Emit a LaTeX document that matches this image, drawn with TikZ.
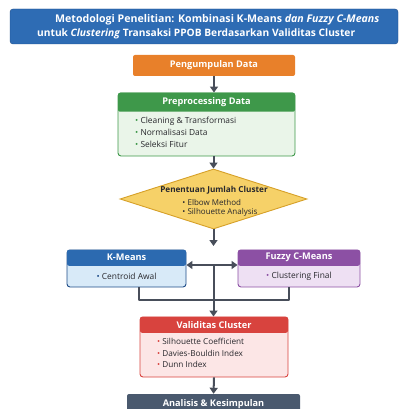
\documentclass[tikz,border=0pt]{standalone}
\usepackage{fontspec}
\setmainfont{Open Sans}
\usetikzlibrary{arrows.meta}
\usetikzlibrary{positioning}
\usetikzlibrary{shapes.geometric}
\definecolor{titleblue}{RGB}{46,108,180}
\definecolor{orangec}{RGB}{232,128,42}
\definecolor{greenc}{RGB}{62,152,74}
\definecolor{greenl}{RGB}{234,245,233}
\definecolor{yellowc}{RGB}{246,209,104}
\definecolor{yellowd}{RGB}{214,160,40}
\definecolor{bluec}{RGB}{44,106,176}
\definecolor{bluel}{RGB}{216,234,248}
\definecolor{blued}{RGB}{30,76,136}
\definecolor{purplec}{RGB}{140,80,164}
\definecolor{purplel}{RGB}{238,224,243}
\definecolor{redc}{RGB}{216,67,62}
\definecolor{redl}{RGB}{252,230,230}
\definecolor{slatec}{RGB}{74,89,110}
\definecolor{arrowc}{RGB}{72,78,90}
\definecolor{darktext}{RGB}{40,40,45}
\newcommand{\li}[2]{{\color{#1}\textbullet}~#2}

\begin{document}
\begin{tikzpicture}[x=1pt,y=-1pt,
hd/.style={fill=#1, text=white, font=\bfseries\fontsize{9.2}{10}\selectfont, rounded corners=2pt, inner sep=0pt},
bd/.style={draw=#1, line width=0.9pt, rounded corners=3pt, inner sep=0pt},
items/.style={align=left, inner sep=0pt, text=darktext, font=\fontsize{8.4}{12}\selectfont},
ar/.style={draw=arrowc, line width=2pt, -{Triangle[width=8pt,length=6pt]}},
ln/.style={draw=arrowc, line width=2pt}]
\useasboundingbox (0,0) rectangle (404,409);

% title
\node[fill=titleblue, draw=blued, rounded corners=3pt, minimum width=388pt, minimum height=35pt, inner sep=0pt](t) at (204,26.5) {};
\node[anchor=west, text=white, font=\bfseries\fontsize{10.6}{11}\selectfont, inner sep=0pt](t1) at (55,20) {Metodologi Penelitian: Kombinasi K-Means \textit{dan Fuzzy C-Means}};
\node[anchor=west, text=white, font=\bfseries\fontsize{10.2}{11}\selectfont, inner sep=0pt](t2) at (37,33.5) {untuk \textit{Clustering} Transaksi PPOB Berdasarkan Validitas Cluster};

% pengumpulan data
\node[hd=orangec, minimum width=162pt, minimum height=21pt](pd) at (214,65.5) {Pengumpulan Data};

% preprocessing
\node[bd=greenc, fill=greenl, minimum width=177pt, minimum height=63pt](ppb) at (206.5,124.5) {};
\node[hd=greenc, minimum width=177pt, minimum height=19pt, below=0pt of ppb.north](pp) {Preprocessing Data};
\node[items, anchor=north west](ppi) at (135,116.5) {\li{greenc}{Cleaning \& Transformasi}\\ \li{greenc}{Normalisasi Data}\\ \li{greenc}{Seleksi Fitur}};

% penentuan jumlah cluster
\node[diamond, draw=yellowd, line width=0.9pt, fill=yellowc, minimum width=187pt, minimum height=60pt, inner sep=0pt](dm) at (213.5,199) {};
\node[font=\bfseries\fontsize{8.2}{9}\selectfont, text=darktext, inner sep=0pt](dmh) at (214,190) {Penentuan Jumlah Cluster};
\node[items, font=\fontsize{8}{9.5}\selectfont](dmi) at (220,208) {\li{darktext}{Elbow Method}\\ \li{darktext}{Silhouette Analysis}};
\coordinate(dme) at (213.5,246);

% k-means
\node[bd=blued, fill=bluel, minimum width=119pt, minimum height=37pt](kmb) at (126.5,268.5) {};
\node[hd=bluec, minimum width=119pt, minimum height=16pt, below=0pt of kmb.north](km) {K-Means};
\node[items](kmi) at (126.5,276.5) {\li{blued}{Centroid Awal}};

% fuzzy c-means
\node[bd=purplec, fill=purplel, minimum width=122pt, minimum height=37pt](fzb) at (299,268.5) {};
\node[hd=purplec, minimum width=122pt, minimum height=16pt, below=0pt of fzb.north](fz) {Fuzzy C-Means};
\node[items](fzi) at (299,276.5) {\li{purplec}{Clustering Final}};

% validitas cluster
\node[bd=redc, fill=redl, minimum width=148pt, minimum height=60pt](vcb) at (214,347) {};
\node[hd=redc, minimum width=148pt, minimum height=16pt, below=0pt of vcb.north](vc) {Validitas Cluster};
\node[items, anchor=north west, font=\fontsize{8.2}{11.5}\selectfont](vci) at (157,338.5) {\li{redc}{Silhouette Coefficient}\\ \li{redc}{Davies-Bouldin Index}\\ \li{redc}{Dunn Index}};

% analisis
\node[hd=slatec, minimum width=173pt, minimum height=20pt](an) at (213.5,404) {Analisis \& Kesimpulan};

% connectors
\coordinate(mid) at (213.5,265);
\coordinate(jl) at (139,300);
\coordinate(jr) at (289,300);
\draw[ar] (pd.south) -- (pd.south |- pp.north);
\draw[ar] (dm.north |- ppb.south) -- (dm.north);
\draw[ar] (dm.south) -- (dme);
\draw[ln, {Triangle[width=8pt,length=6pt]}-{Triangle[width=8pt,length=6pt]}] (kmb.east |- mid) -- (fzb.west |- mid);
\draw[ar] (mid) -- (mid |- vc.north);
\draw[ln, line join=round] (kmb.south -| jl) -- (jl) -- (jr) -- (fzb.south -| jr);
\draw[ar] (vcb.south) -- (an.north);
\end{tikzpicture}
\end{document}
